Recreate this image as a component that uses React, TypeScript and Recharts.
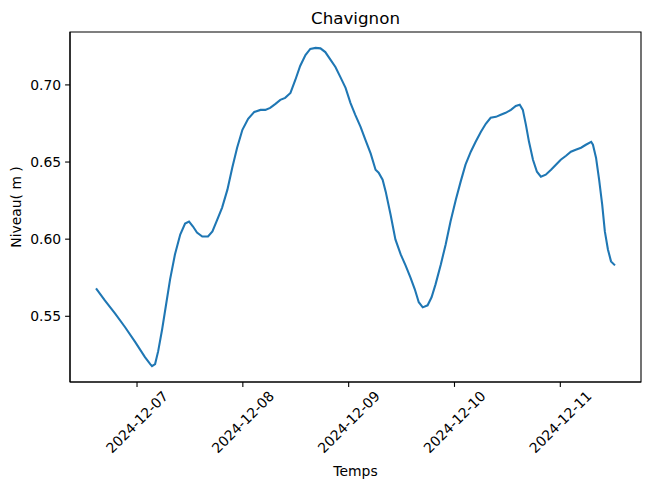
import React from "react";
import {
  LineChart,
  Line,
  XAxis,
  YAxis,
  ReferenceArea,
} from "recharts";

// hours since 2024-12-06 00:00
const hours = [
  14.7, 16.7, 19.0, 21.3, 23.6, 25.8, 27.0, 27.4, 28.1, 28.8, 29.7, 30.6, 31.5,
  32.6, 33.8, 34.9, 35.8, 36.7, 37.6, 38.8, 40.1, 41.1, 42.2, 43.3, 44.5, 45.6,
  46.7, 47.9, 49.2, 50.6, 52.0, 53.1, 54.2, 55.4, 56.5, 57.6, 58.8, 59.9, 61.0,
  62.2, 63.3, 64.5, 65.6, 66.7, 67.9, 69.0, 70.1, 71.3, 72.4, 73.5, 74.7, 75.8,
  77.0, 78.1, 78.8, 79.7, 80.4, 81.5, 82.6, 83.8, 84.9, 86.0, 87.0, 87.9, 88.8,
  89.9, 90.8, 91.7, 92.9, 94.0, 95.1, 96.3, 97.4, 98.5, 99.7, 100.8, 102.0,
  103.1, 104.2, 105.4, 106.5, 107.6, 108.8, 109.9, 110.8, 111.5, 112.2, 112.9,
  113.8, 114.7, 115.6, 116.7, 117.9, 119.0, 120.1, 121.3, 122.4, 123.5, 124.7,
  125.8, 127.0, 127.4, 128.1, 128.8, 129.5, 130.1, 130.8, 131.5, 132.4,
];

const levels = [
  0.5681, 0.5603, 0.5519, 0.5429, 0.5332, 0.5235, 0.519, 0.5177, 0.519, 0.5274,
  0.5416, 0.5578, 0.5739, 0.5901, 0.603, 0.6101, 0.6114, 0.6082, 0.6043, 0.6017,
  0.6017, 0.605, 0.6127, 0.6205, 0.6321, 0.6463, 0.6593, 0.6709, 0.678, 0.6825,
  0.6838, 0.6838, 0.6851, 0.6877, 0.6903, 0.6916, 0.6948, 0.7032, 0.7123,
  0.7194, 0.7233, 0.724, 0.7237, 0.7213, 0.7162, 0.7116, 0.7052, 0.6981, 0.6884,
  0.6806, 0.6728, 0.6644, 0.6554, 0.645, 0.6431, 0.6386, 0.6308, 0.616, 0.5998,
  0.5901, 0.583, 0.5752, 0.5675, 0.5591, 0.5558, 0.5571, 0.5623, 0.5707, 0.5836,
  0.5966, 0.6114, 0.6256, 0.6373, 0.6483, 0.6567, 0.6631, 0.6696, 0.6748,
  0.6787, 0.6793, 0.6806, 0.6819, 0.6838, 0.6864, 0.6871, 0.6838, 0.6741,
  0.6631, 0.6515, 0.6437, 0.6405, 0.6418, 0.645, 0.6483, 0.6515, 0.6541, 0.6567,
  0.658, 0.6593, 0.6612, 0.6631, 0.6612, 0.6528, 0.6386, 0.6224, 0.605, 0.5933,
  0.5856, 0.583,
];

const xTicks = [24, 48, 72, 96, 120];
const xTickLabels = ["2024-12-07", "2024-12-08", "2024-12-09", "2024-12-10", "2024-12-11"];
const yTicks = [0.55, 0.6, 0.65, 0.7];

const data = hours.map((h, i) => ({ h, level: levels[i] }));

const X_DOMAIN: [number, number] = [8.8, 138.3];
const Y_DOMAIN: [number, number] = [0.5074, 0.7343];

const FONT = "DejaVu Sans, sans-serif";

function RotatedTick({ x, y, payload }: any) {
  const idx = xTicks.indexOf(payload.value);
  const label = idx >= 0 ? xTickLabels[idx] : String(payload.value);
  return (
    <text
      x={0}
      y={0}
      textAnchor="middle"
      dominantBaseline="central"
      fontSize={13.9}
      fontFamily={FONT}
      fill="#000"
      transform={`translate(${x},${y + 33}) rotate(-45)`}
    >
      {label}
    </text>
  );
}

export default function App() {
  return (
    <div style={{ position: "absolute", left: 0, top: 0, width: 649, height: 489, background: "#fff" }}>
      <LineChart
        width={649}
        height={489}
        data={data}
        margin={{ top: 32, right: 8, bottom: 0, left: 0 }}
      >
        <XAxis
          type="number"
          dataKey="h"
          domain={X_DOMAIN}
          ticks={xTicks}
          allowDataOverflow
          height={107}
          tickSize={4.9}
          tickLine={{ stroke: "#000", strokeWidth: 1.1 }}
          axisLine={{ stroke: "#000", strokeWidth: 1.1 }}
          tick={<RotatedTick />}
        />
        <YAxis
          type="number"
          domain={Y_DOMAIN}
          ticks={yTicks}
          allowDataOverflow
          width={70}
          tickSize={4.9}
          tickMargin={4}
          tickFormatter={(v: number) => v.toFixed(2)}
          tickLine={{ stroke: "#000", strokeWidth: 1.1 }}
          axisLine={{ stroke: "#000", strokeWidth: 1.1 }}
          tick={{ fill: "#000", fontSize: 13.9, fontFamily: FONT }}
        />
        <ReferenceArea
          x1={X_DOMAIN[0]}
          x2={X_DOMAIN[1]}
          y1={Y_DOMAIN[0]}
          y2={Y_DOMAIN[1]}
          fill="none"
          stroke="#000"
          strokeWidth={1.1}
        />
        <Line
          type="linear"
          dataKey="level"
          stroke="#1f77b4"
          strokeWidth={2.08}
          dot={false}
          isAnimationActive={false}
        />
      </LineChart>
      <svg
        width={649}
        height={489}
        style={{ position: "absolute", left: 0, top: 0, pointerEvents: "none" }}
      >
        <text x={355.5} y={24} textAnchor="middle" fontSize={16.7} fontFamily={FONT} fill="#000">
          Chavignon
        </text>
        <text x={355.5} y={476} textAnchor="middle" fontSize={13.9} fontFamily={FONT} fill="#000">
          Temps
        </text>
        <text
          x={0}
          y={0}
          textAnchor="middle"
          fontSize={13.9}
          fontFamily={FONT}
          fill="#000"
          transform="translate(21,207) rotate(-90)"
        >
          Niveau( m )
        </text>
      </svg>
    </div>
  );
}
